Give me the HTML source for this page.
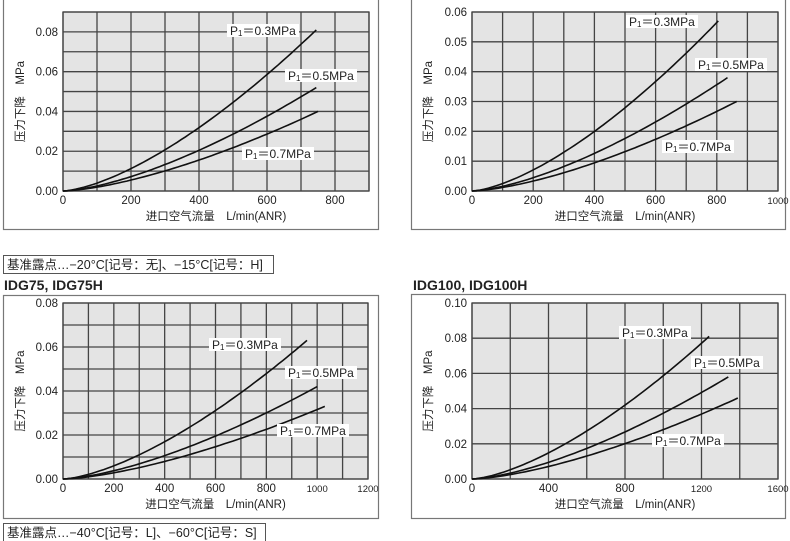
<!DOCTYPE html>
<html><head><meta charset="utf-8"><style>
html,body{margin:0;padding:0;background:#fff;width:790px;height:541px;overflow:hidden}
svg{display:block}
text{font-family:"Liberation Sans","Noto Sans CJK SC",sans-serif;fill:#222}
</style></head><body>
<svg id="s" width="790" height="541" viewBox="0 0 790 541" xmlns="http://www.w3.org/2000/svg">
<text x="5" y="-2" font-size="13" font-weight="bold">IDG60, IDG60H</text>
<rect x="3.5" y="255.5" width="270" height="18" fill="#fff" stroke="#555"/>
<text x="7" y="269" font-size="12.5">基准露点…−20°C[记号：无]、−15°C[记号：H]</text>
<text x="4" y="290" font-size="14" font-weight="bold">IDG75, IDG75H</text>
<text x="413" y="290" font-size="14" font-weight="bold">IDG100, IDG100H</text>
<rect x="3.5" y="523.5" width="262" height="18" fill="#fff" stroke="#555"/>
<text x="7" y="537" font-size="12.5">基准露点…−40°C[记号：L]、−60°C[记号：S]</text>
</svg>
<script>
var S=document.getElementById('s'),NS='http://www.w3.org/2000/svg';
function el(t,a,txt){var e=document.createElementNS(NS,t);for(var k in a)e.setAttribute(k,a[k]);if(txt!=null)e.textContent=txt;S.appendChild(e);return e;}
function chart(c){
 el('rect',{x:c.bx+0.5,y:c.by+0.5,width:c.bw,height:c.bh,fill:'#fff',stroke:'#777','stroke-width':1.2});
 var L=c.px0,R=c.px1,T=c.py0,B=c.py1;
 el('rect',{x:L,y:T,width:R-L,height:B-T,fill:'#e4e4e4'});
 function X(v){return L+(v/c.xmax)*(R-L);} function Y(v){return B-(v/c.ymax)*(B-T);}
 for(var v=0;v<=c.xmax+1e-9;v+=c.xg)el('line',{x1:X(v),x2:X(v),y1:T,y2:B,stroke:'#444','stroke-width':1.3});
 for(var i=0;i*c.yg<=c.ymax+1e-9;i++){var v=i*c.yg;el('line',{x1:L,x2:R,y1:Y(v),y2:Y(v),stroke:'#444','stroke-width':1.3});}
 el('rect',{x:L,y:T,width:R-L,height:B-T,fill:'none',stroke:'#444','stroke-width':1.3});
 c.yl.forEach(function(v){el('text',{x:L-5,y:Y(v)+4,'font-size':11.5,'text-anchor':'end'},v.toFixed(2));});
 c.xl.forEach(function(v){el('text',{x:X(v),y:B+13,'font-size':(v>=1000&&c.small?9.5:11.5),'text-anchor':'middle'},String(v));});
 el('text',{x:(L+R)/2,y:B+29,'font-size':11.5,'text-anchor':'middle'},'进口空气流量　L/min(ANR)');
 el('text',{x:0,y:0,'font-size':11.5,'text-anchor':'middle',transform:'translate('+(c.bx+21)+','+((T+B)/2)+') rotate(-90)'},'压力下降　MPa');
 c.curves.forEach(function(k){var d='';for(var j=0;j<=60;j++){var x=k[0]*j/60,y=k[1]*Math.pow(j/60,1.5);d+=(j?'L':'M')+X(x).toFixed(1)+' '+Y(y).toFixed(1);}
  el('path',{d:d,fill:'none',stroke:'#111','stroke-width':1.6});});
 c.labels.forEach(function(l){el('rect',{x:l[0]-3,y:l[1]-9,width:72,height:13,fill:'#fff'});
  var t=el('text',{x:l[0],y:l[1]+2,'font-size':12},'');
  t.innerHTML='P<tspan font-size="8" dy="1">1</tspan><tspan dy="-1">＝'+l[2]+'MPa</tspan>';});
}
chart({bx:3,by:-5,bw:375,bh:234,px0:63,px1:369,py0:12,py1:191,xmax:900,xg:100,ymax:0.09,yg:0.01,
 yl:[0,0.02,0.04,0.06,0.08],xl:[0,200,400,600,800],
 curves:[[745,0.081],[745,0.052],[750,0.040]],labels:[[230,33,'0.3'],[288,78,'0.5'],[245,156,'0.7']]});
chart({bx:411,by:-5,bw:374,bh:234,px0:472,px1:778,py0:12,py1:191,xmax:1000,xg:100,ymax:0.06,yg:0.01,small:1,
 yl:[0,0.01,0.02,0.03,0.04,0.05,0.06],xl:[0,200,400,600,800,1000],
 curves:[[805,0.057],[835,0.038],[865,0.030]],labels:[[629,24,'0.3'],[698,67,'0.5'],[665,149,'0.7']]});
chart({bx:3,by:295,bw:375,bh:223,px0:63,px1:368,py0:303,py1:479,xmax:1200,xg:100,ymax:0.08,yg:0.01,small:1,
 yl:[0,0.02,0.04,0.06,0.08],xl:[0,200,400,600,800,1000,1200],
 curves:[[960,0.063],[1000,0.042],[1030,0.033]],labels:[[212,347,'0.3'],[288,375,'0.5'],[280,433,'0.7']]});
chart({bx:411,by:294,bw:374,bh:224,px0:472,px1:778,py0:303,py1:479,xmax:1600,xg:200,ymax:0.10,yg:0.02,small:1,
 yl:[0,0.02,0.04,0.06,0.08,0.10],xl:[0,400,800,1200,1600],
 curves:[[1240,0.081],[1340,0.058],[1390,0.046]],labels:[[622,335,'0.3'],[694,365,'0.5'],[655,443,'0.7']]});
</script>
</body></html>
